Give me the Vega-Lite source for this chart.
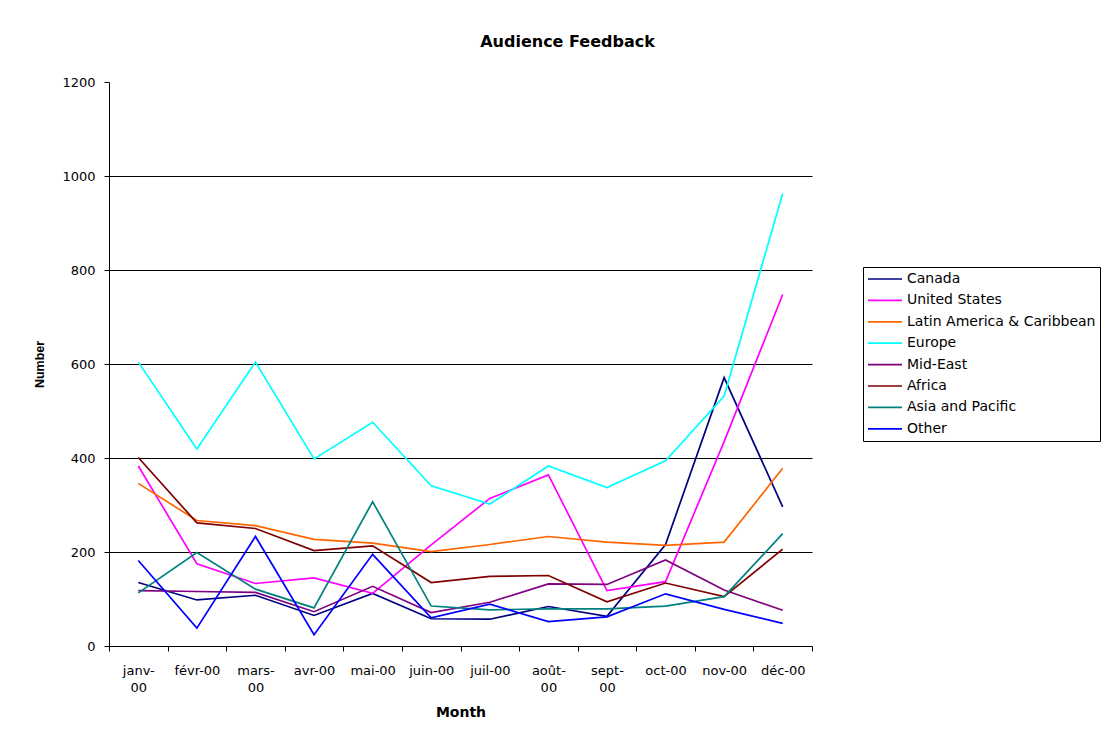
{
  "$schema": "https://vega.github.io/schema/vega-lite/v6.json",
  "autosize": "none",
  "width": 703,
  "height": 564,
  "padding": {"left": 109, "top": 82, "right": 303, "bottom": 94},
  "background": "white",
  "config": {
    "font": "DejaVu Sans",
    "view": {"stroke": null}
  },
  "title": {
    "text": "Audience Feedback",
    "fontSize": 16,
    "fontWeight": "bold",
    "font": "DejaVu Sans",
    "color": "black",
    "anchor": "middle",
    "frame": "group",
    "dx": 107,
    "offset": 26
  },
  "data": {
    "values": [
      {"Month": "janv-00", "Region": "Canada", "Number": 135},
      {"Month": "févr-00", "Region": "Canada", "Number": 98},
      {"Month": "mars-00", "Region": "Canada", "Number": 108},
      {"Month": "avr-00", "Region": "Canada", "Number": 65},
      {"Month": "mai-00", "Region": "Canada", "Number": 112},
      {"Month": "juin-00", "Region": "Canada", "Number": 58},
      {"Month": "juil-00", "Region": "Canada", "Number": 57},
      {"Month": "août-00", "Region": "Canada", "Number": 84},
      {"Month": "sept-00", "Region": "Canada", "Number": 63},
      {"Month": "oct-00", "Region": "Canada", "Number": 216},
      {"Month": "nov-00", "Region": "Canada", "Number": 571},
      {"Month": "déc-00", "Region": "Canada", "Number": 296},
      {"Month": "janv-00", "Region": "United States", "Number": 383},
      {"Month": "févr-00", "Region": "United States", "Number": 175},
      {"Month": "mars-00", "Region": "United States", "Number": 133},
      {"Month": "avr-00", "Region": "United States", "Number": 145},
      {"Month": "mai-00", "Region": "United States", "Number": 112},
      {"Month": "juin-00", "Region": "United States", "Number": 215},
      {"Month": "juil-00", "Region": "United States", "Number": 314},
      {"Month": "août-00", "Region": "United States", "Number": 364},
      {"Month": "sept-00", "Region": "United States", "Number": 118},
      {"Month": "oct-00", "Region": "United States", "Number": 137},
      {"Month": "nov-00", "Region": "United States", "Number": 435},
      {"Month": "déc-00", "Region": "United States", "Number": 748},
      {"Month": "janv-00", "Region": "Latin America & Caribbean", "Number": 346},
      {"Month": "févr-00", "Region": "Latin America & Caribbean", "Number": 267},
      {"Month": "mars-00", "Region": "Latin America & Caribbean", "Number": 256},
      {"Month": "avr-00", "Region": "Latin America & Caribbean", "Number": 227},
      {"Month": "mai-00", "Region": "Latin America & Caribbean", "Number": 219},
      {"Month": "juin-00", "Region": "Latin America & Caribbean", "Number": 201},
      {"Month": "juil-00", "Region": "Latin America & Caribbean", "Number": 216},
      {"Month": "août-00", "Region": "Latin America & Caribbean", "Number": 233},
      {"Month": "sept-00", "Region": "Latin America & Caribbean", "Number": 221},
      {"Month": "oct-00", "Region": "Latin America & Caribbean", "Number": 214},
      {"Month": "nov-00", "Region": "Latin America & Caribbean", "Number": 221},
      {"Month": "déc-00", "Region": "Latin America & Caribbean", "Number": 378},
      {"Month": "janv-00", "Region": "Europe", "Number": 604},
      {"Month": "févr-00", "Region": "Europe", "Number": 419},
      {"Month": "mars-00", "Region": "Europe", "Number": 604},
      {"Month": "avr-00", "Region": "Europe", "Number": 398},
      {"Month": "mai-00", "Region": "Europe", "Number": 476},
      {"Month": "juin-00", "Region": "Europe", "Number": 341},
      {"Month": "juil-00", "Region": "Europe", "Number": 302},
      {"Month": "août-00", "Region": "Europe", "Number": 383},
      {"Month": "sept-00", "Region": "Europe", "Number": 337},
      {"Month": "oct-00", "Region": "Europe", "Number": 394},
      {"Month": "nov-00", "Region": "Europe", "Number": 532},
      {"Month": "déc-00", "Region": "Europe", "Number": 963},
      {"Month": "janv-00", "Region": "Mid-East", "Number": 118},
      {"Month": "févr-00", "Region": "Mid-East", "Number": 116},
      {"Month": "mars-00", "Region": "Mid-East", "Number": 114},
      {"Month": "avr-00", "Region": "Mid-East", "Number": 73},
      {"Month": "mai-00", "Region": "Mid-East", "Number": 127},
      {"Month": "juin-00", "Region": "Mid-East", "Number": 71},
      {"Month": "juil-00", "Region": "Mid-East", "Number": 93},
      {"Month": "août-00", "Region": "Mid-East", "Number": 132},
      {"Month": "sept-00", "Region": "Mid-East", "Number": 131},
      {"Month": "oct-00", "Region": "Mid-East", "Number": 183},
      {"Month": "nov-00", "Region": "Mid-East", "Number": 119},
      {"Month": "déc-00", "Region": "Mid-East", "Number": 76},
      {"Month": "janv-00", "Region": "Africa", "Number": 401},
      {"Month": "févr-00", "Region": "Africa", "Number": 262},
      {"Month": "mars-00", "Region": "Africa", "Number": 250},
      {"Month": "avr-00", "Region": "Africa", "Number": 203},
      {"Month": "mai-00", "Region": "Africa", "Number": 213},
      {"Month": "juin-00", "Region": "Africa", "Number": 135},
      {"Month": "juil-00", "Region": "Africa", "Number": 148},
      {"Month": "août-00", "Region": "Africa", "Number": 150},
      {"Month": "sept-00", "Region": "Africa", "Number": 94},
      {"Month": "oct-00", "Region": "Africa", "Number": 134},
      {"Month": "nov-00", "Region": "Africa", "Number": 105},
      {"Month": "déc-00", "Region": "Africa", "Number": 206},
      {"Month": "janv-00", "Region": "Asia and Pacific", "Number": 113},
      {"Month": "févr-00", "Region": "Asia and Pacific", "Number": 199},
      {"Month": "mars-00", "Region": "Asia and Pacific", "Number": 121},
      {"Month": "avr-00", "Region": "Asia and Pacific", "Number": 81},
      {"Month": "mai-00", "Region": "Asia and Pacific", "Number": 307},
      {"Month": "juin-00", "Region": "Asia and Pacific", "Number": 85},
      {"Month": "juil-00", "Region": "Asia and Pacific", "Number": 77},
      {"Month": "août-00", "Region": "Asia and Pacific", "Number": 79},
      {"Month": "sept-00", "Region": "Asia and Pacific", "Number": 79},
      {"Month": "oct-00", "Region": "Asia and Pacific", "Number": 85},
      {"Month": "nov-00", "Region": "Asia and Pacific", "Number": 105},
      {"Month": "déc-00", "Region": "Asia and Pacific", "Number": 239},
      {"Month": "janv-00", "Region": "Other", "Number": 182},
      {"Month": "févr-00", "Region": "Other", "Number": 38},
      {"Month": "mars-00", "Region": "Other", "Number": 233},
      {"Month": "avr-00", "Region": "Other", "Number": 24},
      {"Month": "mai-00", "Region": "Other", "Number": 195},
      {"Month": "juin-00", "Region": "Other", "Number": 60},
      {"Month": "juil-00", "Region": "Other", "Number": 89},
      {"Month": "août-00", "Region": "Other", "Number": 52},
      {"Month": "sept-00", "Region": "Other", "Number": 62},
      {"Month": "oct-00", "Region": "Other", "Number": 111},
      {"Month": "nov-00", "Region": "Other", "Number": 78},
      {"Month": "déc-00", "Region": "Other", "Number": 48}
    ]
  },
  "mark": {"type": "line", "strokeWidth": 1.7},
  "encoding": {
    "x": {
      "field": "Month",
      "type": "ordinal",
      "sort": null,
      "bandPosition": 0.5,
      "scale": {"type": "band", "paddingInner": 0, "paddingOuter": 0},
      "axis": {
        "title": "Month",
        "titleFont": "DejaVu Sans",
        "titleFontSize": 14,
        "titleFontWeight": "bold",
        "titleColor": "black",
        "titlePadding": 11,
        "labelAngle": 0,
        "labelFontSize": 13,
        "labelColor": "black",
        "labelPadding": 13,
        "labelLineHeight": 17,
        "labelExpr": "indexof(['janv-00','mars-00','août-00','sept-00'], datum.label) >= 0 ? [slice(datum.label, 0, -2), '00'] : datum.label",
        "tickBand": "extent",
        "tickSize": 5,
        "tickColor": "black",
        "domainColor": "black",
        "grid": false
      }
    },
    "y": {
      "field": "Number",
      "type": "quantitative",
      "scale": {"domain": [0, 1200], "nice": false},
      "axis": {
        "title": "Number",
        "titleFont": "Liberation Sans",
        "titleFontSize": 12.5,
        "titleFontWeight": "bold",
        "titleColor": "black",
        "titlePadding": 15,
        "values": [0, 200, 400, 600, 800, 1000, 1200],
        "format": "d",
        "labelFontSize": 13,
        "labelColor": "black",
        "labelPadding": 9,
        "tickSize": 5,
        "tickColor": "black",
        "domainColor": "black",
        "grid": true,
        "gridColor": {"condition": {"test": "datum.value >= 1200 || datum.value <= 0", "value": "transparent"}, "value": "black"},
        "gridOpacity": 1
      }
    },
    "color": {
      "field": "Region",
      "type": "nominal",
      "scale": {
        "domain": ["Canada", "United States", "Latin America & Caribbean", "Europe", "Mid-East", "Africa", "Asia and Pacific", "Other"],
        "range": ["#000080", "#ff00ff", "#ff6600", "#00ffff", "#800080", "#800000", "#008080", "#0000ff"]
      },
      "legend": {
        "title": null,
        "orient": "none",
        "legendX": 754,
        "legendY": 185,
        "strokeColor": "black",
        "fillColor": "white",
        "padding": 4,
        "symbolType": "stroke",
        "symbolSize": 1156,
        "symbolStrokeWidth": 1.7,
        "labelFontSize": 14,
        "labelColor": "black",
        "labelOffset": 4,
        "labelLimit": 400,
        "clipHeight": 16,
        "rowPadding": 5.4
      }
    }
  }
}
